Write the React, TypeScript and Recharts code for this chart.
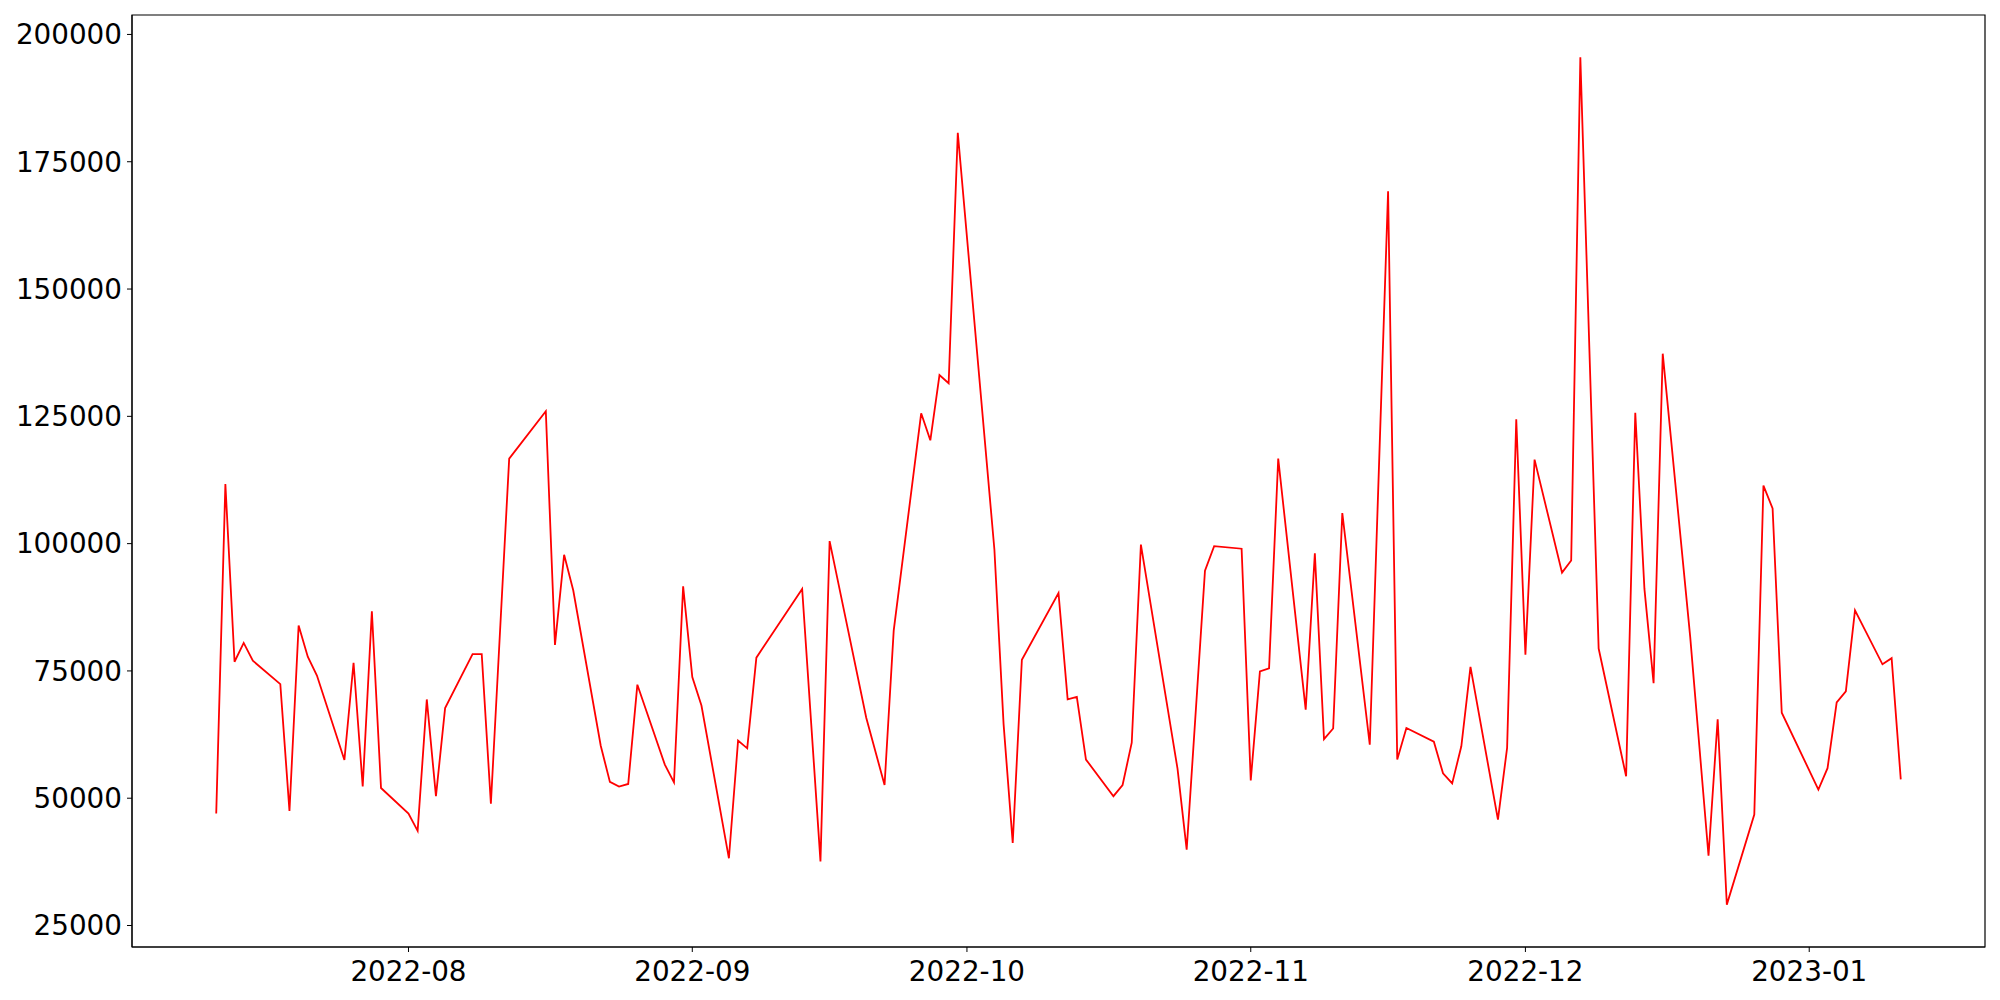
import { LineChart, Line, XAxis, YAxis, ReferenceArea } from "recharts";

const dates = [
  "2022-07-11", "2022-07-12", "2022-07-13", "2022-07-14", "2022-07-15",
  "2022-07-18", "2022-07-19", "2022-07-20", "2022-07-21", "2022-07-22",
  "2022-07-25", "2022-07-26", "2022-07-27", "2022-07-28", "2022-07-29",
  "2022-08-01", "2022-08-02", "2022-08-03", "2022-08-04", "2022-08-05",
  "2022-08-08", "2022-08-09", "2022-08-10", "2022-08-12", "2022-08-16",
  "2022-08-17", "2022-08-18", "2022-08-19", "2022-08-22", "2022-08-23",
  "2022-08-24", "2022-08-25", "2022-08-26", "2022-08-29", "2022-08-30",
  "2022-08-31", "2022-09-01", "2022-09-02", "2022-09-05", "2022-09-06",
  "2022-09-07", "2022-09-08", "2022-09-13", "2022-09-15", "2022-09-16",
  "2022-09-20", "2022-09-22", "2022-09-23", "2022-09-26", "2022-09-27",
  "2022-09-28", "2022-09-29", "2022-09-30", "2022-10-04", "2022-10-05",
  "2022-10-06", "2022-10-07", "2022-10-11", "2022-10-12", "2022-10-13",
  "2022-10-14", "2022-10-17", "2022-10-18", "2022-10-19", "2022-10-20",
  "2022-10-24", "2022-10-25", "2022-10-27", "2022-10-28", "2022-10-31",
  "2022-11-01", "2022-11-02", "2022-11-03", "2022-11-04", "2022-11-07",
  "2022-11-08", "2022-11-09", "2022-11-10", "2022-11-11", "2022-11-14",
  "2022-11-16", "2022-11-17", "2022-11-18", "2022-11-21", "2022-11-22",
  "2022-11-23", "2022-11-24", "2022-11-25", "2022-11-28", "2022-11-29",
  "2022-11-30", "2022-12-01", "2022-12-02", "2022-12-05", "2022-12-06",
  "2022-12-07", "2022-12-09", "2022-12-12", "2022-12-13", "2022-12-14",
  "2022-12-15", "2022-12-16", "2022-12-19", "2022-12-21", "2022-12-22",
  "2022-12-23", "2022-12-26", "2022-12-27", "2022-12-28", "2022-12-29",
  "2023-01-02", "2023-01-03", "2023-01-04", "2023-01-05", "2023-01-06",
  "2023-01-09", "2023-01-10", "2023-01-11",
];

const values = [
  47000, 111700, 76800, 80500, 77000,
  72400, 47500, 83900, 77800, 74100,
  57500, 76600, 52300, 86700, 52000,
  47000, 43600, 69400, 50400, 67700,
  78300, 78300, 48900, 116700, 126000,
  80100, 97800, 90800, 60300, 53200,
  52300, 52800, 72300, 56600, 53100,
  91600, 73800, 68200, 38200, 61300,
  59800, 77600, 91100, 37600, 100500,
  65800, 52600, 82900, 125600, 120300,
  133100, 131500, 180700, 98800, 64600,
  41200, 77200, 90300, 69400, 69900,
  57600, 50400, 52600, 60900, 99800,
  55800, 39900, 94700, 99500, 99000,
  53500, 74900, 75500, 116700, 67400,
  98100, 61600, 63700, 106000, 60500,
  169200, 57600, 63800, 61100, 54900,
  52900, 60200, 75800, 45800, 59900,
  124400, 78200, 116500, 94300, 96700,
  195500, 79400, 54300, 125700, 91100,
  72600, 137300, 81700, 38700, 65500,
  29100, 46800, 111400, 106900, 66800,
  51700, 55900, 68800, 71000, 86900,
  76300, 77500, 53700,
];

const monthTicks = ["2022-08-01", "2022-09-01", "2022-10-01", "2022-11-01", "2022-12-01", "2023-01-01"];
const yTicks = [25000, 50000, 75000, 100000, 125000, 150000, 175000, 200000];

const data = dates.map((d, i) => ({ t: Date.parse(d), v: values[i] }));

// matplotlib-style 5% padding around the data
const tMin = data[0].t;
const tMax = data[data.length - 1].t;
const tPad = (tMax - tMin) * 0.05;
const vMin = Math.min(...values);
const vMax = Math.max(...values);
const vPad = (vMax - vMin) * 0.05;
const xDom: [number, number] = [tMin - tPad, tMax + tPad];
const yDom: [number, number] = [vMin - vPad, vMax + vPad];

const font = { fill: "#000", fontSize: 27.8, fontFamily: "DejaVu Sans" };

function monthLabel(t: number) {
  const d = new Date(t);
  return `${d.getUTCFullYear()}-${String(d.getUTCMonth() + 1).padStart(2, "0")}`;
}

export default function App() {
  return (
    <div>
      <style>{`body{margin:0}`}</style>
      <LineChart width={2000} height={1000} data={data} margin={{ top: 15, right: 15, bottom: 0, left: 0 }}>
        <XAxis
          dataKey="t"
          type="number"
          domain={xDom}
          ticks={monthTicks.map((m) => Date.parse(m))}
          tickFormatter={monthLabel}
          height={53}
          tick={font}
          tickSize={5}
          tickMargin={9}
          axisLine={{ stroke: "#000" }}
          tickLine={{ stroke: "#000" }}
          allowDataOverflow
        />
        <YAxis
          type="number"
          domain={yDom}
          ticks={yTicks}
          width={132}
          tick={font}
          tickSize={5}
          tickMargin={5}
          axisLine={{ stroke: "#000" }}
          tickLine={{ stroke: "#000" }}
          allowDataOverflow
        />
        {/* axes frame */}
        <ReferenceArea x1={xDom[0]} x2={xDom[1]} y1={yDom[0]} y2={yDom[1]} fill="none" stroke="#000" strokeWidth={1.2} ifOverflow="extendDomain" />
        <Line dataKey="v" type="linear" stroke="#ff0000" strokeWidth={1.8} dot={false} isAnimationActive={false} />
      </LineChart>
    </div>
  );
}
